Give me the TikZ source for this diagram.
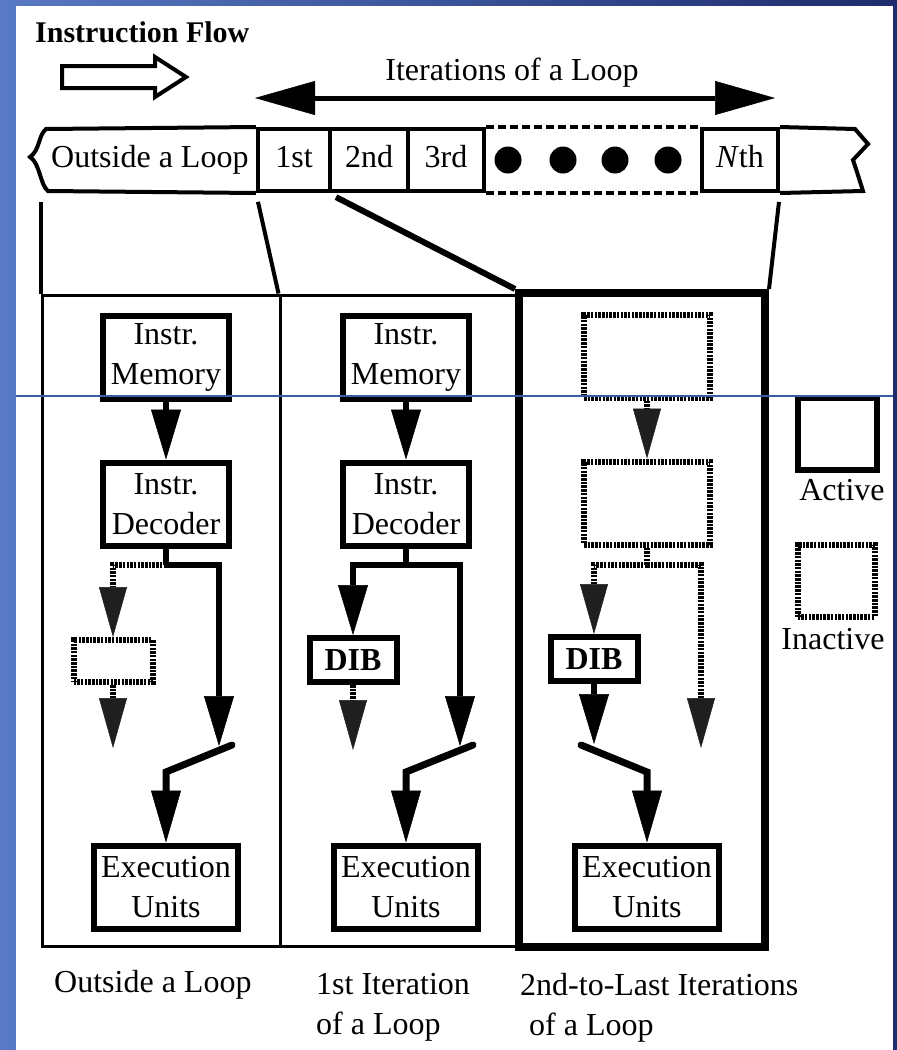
\documentclass[tikz,border=0pt]{standalone}
\usepackage{fontspec}
\setmainfont{Liberation Serif}
\usepackage{tikz}
\usetikzlibrary{arrows.meta, positioning}

\newcommand{\lbl}{\fontsize{32pt}{40pt}\selectfont}
\definecolor{slideL}{RGB}{88,121,196}
\definecolor{slideR}{RGB}{29,44,108}
\definecolor{slideRule}{RGB}{60,92,168}

\tikzset{
  box/.style={draw, line width=6pt, inner sep=0pt, align=center, font=\lbl,
    minimum width=126pt, minimum height=83pt},
  exe/.style={minimum width=144pt, minimum height=83pt},
  dib/.style={minimum width=87pt, minimum height=44pt},
  off/.style={dash pattern=on 2.5pt off 1.2pt},
  cell/.style={draw, line width=4pt, inner sep=0pt, font=\lbl, minimum height=62pt,
    text height=22pt, text depth=7pt},
  tape/.style={line width=4pt},
  panel/.style={draw, line width=3pt, inner sep=0pt},
  link/.style={line width=4pt, shorten <=9pt},
  wire/.style={line width=6pt},
  flow/.style={line width=6pt, -{Triangle[length=50pt, width=30pt, line width=0.5pt]}},
  flowoff/.style={line width=6pt, off,
    -{Triangle[length=50pt, width=28pt, line width=0.5pt, color=black!88]}},
  switch/.style={line width=7pt, line cap=round,
    -{Triangle[length=52pt, width=30pt, line width=0.5pt]}},
  caption/.style={anchor=north west, inner sep=0pt, align=left, font=\lbl}
}

\begin{document}
\begin{tikzpicture}[x=1pt, y=-1pt]
    \useasboundingbox (0,0) rectangle (897,1050);
    % slide background
    \shade[left color=slideL, right color=slideR] (0,0) rectangle (897,1050);
    \fill[white] (16,6) rectangle (893,1050);

    % instruction flow and loop iterations
    \node[anchor=base west, inner sep=0pt, font=\fontsize{30pt}{36pt}\selectfont\bfseries] (flowlbl) at (35,42) {Instruction Flow};
    \draw[line width=4pt] (62,66) -- (155,66) -- (155,57) -- (186,77) -- (155,97) -- (155,88) -- (62,88) -- cycle;
    \node[anchor=base, inner sep=0pt, font=\lbl] (iter) at (512,80) {Iterations of a Loop};
    \coordinate (itl) at (255,98);
    \coordinate (itr) at (775,98);
    \draw[line width=5pt, {Triangle[length=60pt, width=34pt, line width=0.5pt]}-{Triangle[length=60pt, width=34pt, line width=0.5pt]}] (itl) -- (itr);

    % the instruction stream
    \node[anchor=west, inner sep=0pt, font=\lbl] (outs) at (51,160) {Outside a Loop};
    \node[cell, minimum width=72pt] (it1) at (294,160) {1st};
    \node[cell, minimum width=78pt] (it2) at (369,160) {2nd};
    \node[cell, minimum width=76pt] (it3) at (446,160) {3rd};
    \node[cell, minimum width=76pt] (itN) at (740,160) {\textit{N}th};
    \draw[tape] (it1.north west) -- (46,129) .. controls (38,136) and (40,150) .. (30,157)
        .. controls (40,163) and (40,185) .. (48,191) -- (it1.south west);
    \draw[tape] (itN.north east) -- (855,129) -- (868,144) -- (853,160)
        .. controls (857,172) .. (863,191) -- (itN.south east);
    \draw[tape, dash pattern=on 8pt off 4pt] (it3.north east) -- (itN.north west);
    \draw[tape, dash pattern=on 8pt off 4pt] (it3.south east) -- (itN.south west);
    \fill (508,160) circle (13.5) (563,160) circle (13.5) (615,160) circle (13.5) (668,160) circle (13.5);

    % the three situations
    \node[panel, minimum width=238pt, minimum height=651pt] (pan1) at (161,620.5) {};
    \node[panel, minimum width=240pt, minimum height=651pt] (pan2) at (400,620.5) {};
    \node[panel, line width=8pt, minimum width=246pt, minimum height=654pt] (pan3) at (642,620) {};
    \draw[link] (pan1.north west |- it1.south) -- (pan1.north west);
    \draw[link] (it1.south west) -- (pan2.north west);
    \draw[link, line width=6pt] (it2.south west) -- (pan3.north west);
    \draw[link] (itN.south east) -- (pan3.north east);

    % outside a loop
    \node[box] (mem1) at (166,357) {Instr.\\Memory};
    \node[box] (dec1) at (166,504) {Instr.\\Decoder};
    \node[box, off, minimum width=79pt, minimum height=42pt] (buf1) at (113,661) {};
    \node[box, exe] (exe1) at (166,887) {Execution\\Units};
    \coordinate (j1) at (166,565);
    \coordinate (t1) at (219,746);
    \coordinate (o1) at (113,748);
    \coordinate (sa1) at (232,745);
    \coordinate (sb1) at (166,772);
    \draw[flow] (mem1) -- (dec1);
    \draw[wire] (dec1) -- (j1);
    \draw[flowoff] (j1) -| (buf1);
    \draw[flow] (j1) -| (t1);
    \draw[flowoff] (buf1) -- (o1);
    \draw[switch] (sa1) -- (sb1) -- (exe1);

    % 1st iteration
    \node[box] (mem2) at (406,357) {Instr.\\Memory};
    \node[box] (dec2) at (406,504) {Instr.\\Decoder};
    \node[box, dib] (dib2) at (353,660) {\textbf{DIB}};
    \node[box, exe] (exe2) at (406,887) {Execution\\Units};
    \coordinate (j2) at (406,565);
    \coordinate (t2) at (460,746);
    \coordinate (o2) at (353,750);
    \coordinate (sa2) at (473,745);
    \coordinate (sb2) at (406,772);
    \draw[flow] (mem2) -- (dec2);
    \draw[wire] (dec2) -- (j2);
    \draw[flow] (j2) -| (dib2);
    \draw[flow] (j2) -| (t2);
    \draw[flowoff] (dib2) -- (o2);
    \draw[switch] (sa2) -- (sb2) -- (exe2);

    % 2nd to last iterations
    \node[box, off] (mem3) at (647,356) {};
    \node[box, off] (dec3) at (647,503) {};
    \node[box, dib] (dib3) at (594,659) {\textbf{DIB}};
    \node[box, exe] (exe3) at (647,887) {Execution\\Units};
    \coordinate (j3) at (647,565);
    \coordinate (t3) at (594,744);
    \coordinate (o3) at (701,748);
    \coordinate (sa3) at (581,745);
    \coordinate (sb3) at (647,772);
    \draw[flowoff] (mem3) -- (dec3);
    \draw[wire, off] (dec3) -- (j3);
    \draw[flowoff] (j3) -| (dib3);
    \draw[flowoff] (j3) -| (o3);
    \draw[flow] (dib3) -- (t3);
    \draw[switch] (sa3) -- (sb3) -- (exe3);

    % legend
    \node[box, minimum width=79pt, minimum height=72pt] (lact) at (837,434) {};
    \node[below=6pt of lact, xshift=5pt, inner sep=0pt, font=\lbl] (tact) {Active};
    \node[box, off, minimum width=77pt, minimum height=72pt] (lina) at (836,581) {};
    \node[below=8pt of lina, xshift=-3pt, inner sep=0pt, font=\lbl] (tina) {Inactive};

    % captions
    \node[caption] (cap1) at (54,970) {Outside a Loop};
    \node[caption] (cap2) at (316,973) {1st Iteration\\of a Loop};
    \node[caption] (cap3) at (520,973) {2nd-to-Last Iterations\\\hspace*{9pt}of a Loop};

    % thin slide rule
    \draw[slideRule, line width=1.2pt] (16,396) -- (893,396);
\end{tikzpicture}
\end{document}
